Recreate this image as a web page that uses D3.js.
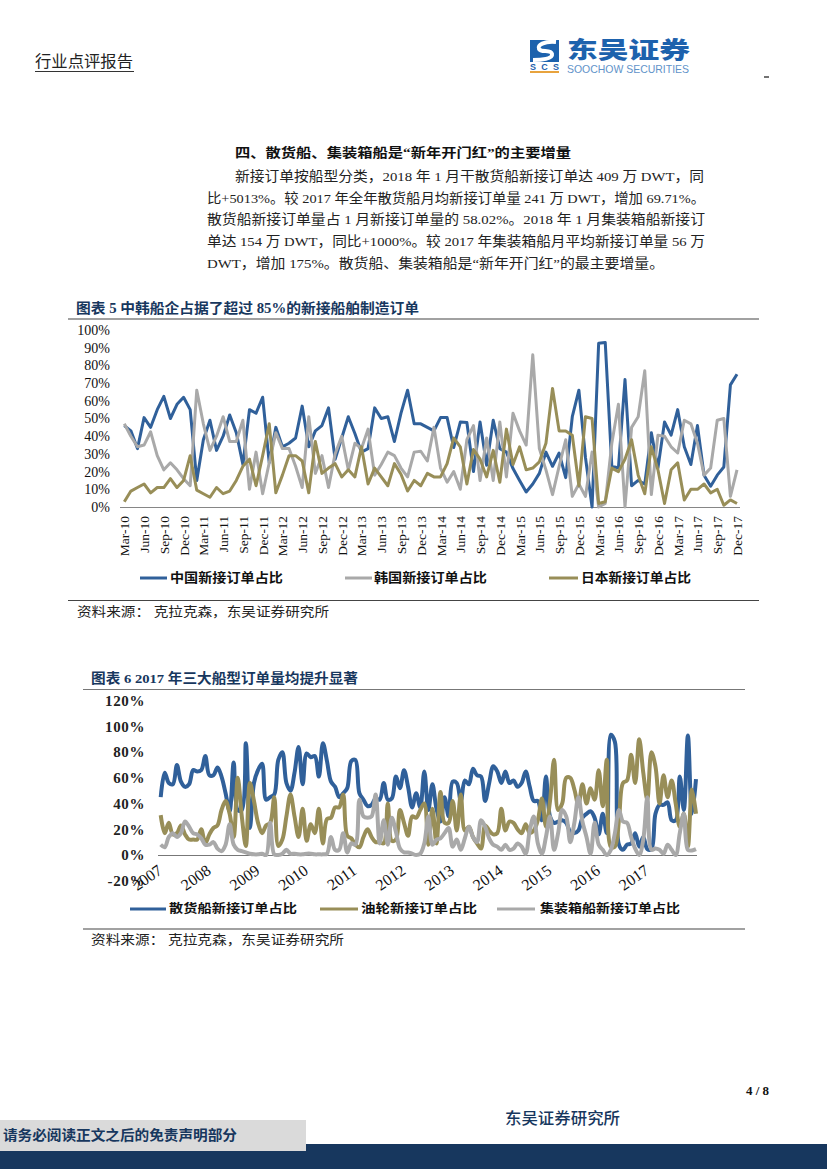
<!DOCTYPE html>
<html><head><meta charset="utf-8">
<script src="https://cdn.jsdelivr.net/npm/d3@7/dist/d3.min.js"></script>
<style>html,body{margin:0;padding:0;background:#fff}svg{display:block}</style>
</head><body><svg id="page" width="827" height="1169"></svg>
<script>
// ---------- chart 1 data (monthly, Mar-10 .. Dec-17, %)
const chinaShare = [46,43,33,50.5,45,55,62.5,50,58,62,
55,15,38,49,32,40,52,42,24,55,
53,62,25,45,34,36,39,57,34,43,
46,56,27,39,51,41.5,31,33,56,50,
51,37,53,66,47,47,45,43,50.5,50.5,
33.6,48,47.7,20,48,23.6,49,33,31,21.7,
15,8.5,13,19,31,23,30.5,16.6,51,66,
28,0,92.5,93,23,22,72,12,15,13,
42,22,48,40.6,55,34,24,46,18,11.7,
18,22.6,69,75];
const koreaShare = [47,40,34,35,42.5,29,21,25,21,16,
12,66,47,32,40,51,37,37,49,10,
31,7.5,25,42,33,33,23,11,51,19,
29,11,30,40,21,36,33,44,18,24,
31,29,22,17,31,31.5,26,45,22,14,
20,10,38,46,15,39,15,48,17,53,
43,35,86,33,21,7,23,38,6,13,
6,31,0,2,36,58,0,45,51,77,
7,40.6,40,34,30.5,49,47,36,18,22,
49,50,6,21];
const japanShare = [3,9,11,13,8,11,11,16,11,15,
29,9.5,7.5,5.5,11,7.5,9,15,23,27,
12,29,47,8,18,29,29,26,8,37,
19,22,24.5,17,21,17,34,13,22,17,
12,24.5,18.5,9,15,12,19,17,17,24.5,
39,34,13,32.5,27,17,32,14,44,24,
34,21,22,25.5,36,67,43,43,40.5,12,
51,50,2,3,22,20,27,38,18,7.5,
34,21,2,21,25,4,10,10,13,8,
10,1,4,2];
const chart1Ticks = ["Mar-10","Jun-10","Sep-10","Dec-10","Mar-11","Jun-11","Sep-11","Dec-11","Mar-12","Jun-12","Sep-12","Dec-12","Mar-13","Jun-13","Sep-13","Dec-13","Mar-14","Jun-14","Sep-14","Dec-14","Mar-15","Jun-15","Sep-15","Dec-15","Mar-16","Jun-16","Sep-16","Dec-16","Mar-17","Jun-17","Sep-17","Dec-17"];
const chart1Y = [0,10,20,30,40,50,60,70,80,90,100];
const chart1Names = ["中国新接订单占比","韩国新接订单占比","日本新接订单占比"];

// ---------- chart 2 data (monthly, Jan-07 .. Jan-18, %)
const bulkShare = [45,64,56,55,70,57,53,55,66,65,
66,77,62,62,68,61,48,34,72,35,
35,87,21,56,66,71,43,45,47,74,
80,56,50,64,84,55,79,76,77,61,
87,73,57,53,45,48,52,73,74,48,
43,38,39,44,43,56,43,44,61,52,
66,53,37,48,37,65,35,55,36,26,
45,30,57,56,42,58,55,67,62,61,
42,56,69,65,56,65,56,58,53,56,
65,53,42,42,27,61,30,25,26,27,
25,18,17,19,29,32,34,29,16,32,
17,93.5,88,8,4,8,9,17,6.5,14,
4.5,4.5,32,39,39,41,27,27,61,35,
93,32,59];
const tankerShare = [31,17,25,16,17,23,16,12,12,12,
20,9,16,21,23,35,42,32,14,60,
30,7,56,42,25,17,23,25,45,7,
12,30,47,30,14,36,11,24,17,36,
9,28,29,37,37,47,15,13,8,6,
14,20,14,10,10,9,40,11,12,35,
25,15,30,29,35,40,8,36,9,49,
25,25,42,19,47,19,22,14,9,5,
23,19,16,17,36,19,26,25,20,17,
24,17,19,27,44,22,42,74,35,40,
60,60,51,39,55,40,52,43,66,38,
74,6.5,6.5,27,56,58,78,56,90,64,
43,80,69,40,62,45,58,40,22,32,
6.5,51,32];
const containerShare = [8,6,14,17,14,17,26,22,17,16,
13,8,8,10,5,3,8,24,8,4,
3,2,1,0.5,0.5,1,0,25,0.5,0,
1,4,1,1,0.5,0.5,1,1,0.5,0.5,
0.5,1,14,4,4,17,2,9,8,43,
30,29,30,47,9,27,8,29,18,5,
2,2,1,0,1,9,30,8,12,13,
17,21,6.5,12,4,13,22,14,10,27,
22,13,8,6.5,4,8,4,5,9,6.5,
1,19,30,9,1,14,30,4,17,35,
30,10,25,45,26,14,1,25,8,4,
0,4,17,35,26,25,14,5,0,12,
45,4,5,4,1,8,4,0,17,32,
4,3.5,4.5];
const chart2Years = ["2007","2008","2009","2010","2011","2012","2013","2014","2015","2016","2017"];
const chart2Y = [-20,0,20,40,60,80,100,120];
const chart2Names = ["散货船新接订单占比","油轮新接订单占比","集装箱船新接订单占比"];

// ---------- page text
const bodyLines = [
 "新接订单按船型分类，2018 年 1 月干散货船新接订单达 409 万 DWT，同",
 "比+5013%。较 2017 年全年散货船月均新接订单量 241 万 DWT，增加 69.71%。",
 "散货船新接订单量占 1 月新接订单量的 58.02%。2018 年 1 月集装箱船新接订",
 "单达 154 万 DWT，同比+1000%。较 2017 年集装箱船月平均新接订单量 56 万",
 "DWT，增加 175%。散货船、集装箱船是“新年开门红”的最主要增量。"];

const BLUE="#30609a", GREY="#a9a9a9", OLIVE="#988e58", NAVY="#17375e";
const SERIF='"Liberation Serif","Noto Sans CJK SC",serif';
const svg=d3.select("#page").style("font-family",SERIF);

function label(x,y,str,len,o={}){
  const t=svg.append("text").attr("x",x).attr("y",y+1.5).attr("dominant-baseline","middle")
    .attr("font-size",o.size||13).attr("font-weight",o.weight||400).attr("fill",o.fill||"#222").text(str);
  if(len) t.attr("textLength",len).attr("lengthAdjust","spacingAndGlyphs");
  return t;
}
function rule(x1,x2,y,c,w){svg.append("line").attr("x1",x1).attr("x2",x2).attr("y1",y).attr("y2",y).attr("stroke",c).attr("stroke-width",w||1);}

// header
label(35,62,"行业点评报告",98,{size:16,fill:"#222"});
rule(35,134,71.5,"#333",1);
const logo=svg.append("g");
logo.append("rect").attr("x",530).attr("y",40).attr("width",29).attr("height",22).attr("fill","#1d62ad");
logo.append("path").attr("d","M556 42 C544 41 537 45 539 49 C541 53 551 49 552 54 C553 59 541 60 533 60").attr("fill","none").attr("stroke","#fff").attr("stroke-width",4);
logo.append("text").attr("x",530).attr("y",69.5).attr("font-size",9).attr("font-weight",700).attr("font-family","Liberation Sans").attr("fill","#1d62ad").attr("textLength",29).text("SCS");
logo.append("rect").attr("x",530).attr("y",71).attr("width",29).attr("height",2).attr("fill","#e8a33d");
label(567,50,"东吴证券",123,{size:23,weight:900,fill:"#1d62ad"}).style("font-family",'"Noto Sans CJK SC"');
label(567,68.5,"SOOCHOW SECURITIES",122,{size:11,fill:"#5f93c9"}).style("font-family","Liberation Sans");
rule(764,769,77,"#444",1.5);

// section + paragraph
label(235,153,"四、散货船、集装箱船是“新年开门红”的主要增量",336,{size:13,weight:700,fill:"#111"});
const lineX=[235,207,207,207,207], lineW=[469,498,498,498,457], lineY=[176,198,219,241,263];
bodyLines.forEach((s,i)=>label(lineX[i],lineY[i],s,lineW[i],{size:13.5,fill:"#222"}));

// ---------- chart 1
label(76,308,"图表 5 中韩船企占据了超过 85%的新接船舶制造订单",343,{size:14,weight:700,fill:NAVY});
rule(68,759,319,"#444",1.2);
const x1=d3.scaleLinear().domain([0,chinaShare.length-1]).range([124.3,737]);
const y1=d3.scaleLinear().domain([0,100]).range([507,330]);
const yA1=svg.append("g").attr("transform","translate(120,0)")
  .call(d3.axisLeft(y1).tickValues(chart1Y).tickFormat(d=>d+"%").tickSize(0).tickPadding(10));
yA1.select(".domain").remove();
yA1.selectAll("text").attr("font-family",SERIF).attr("font-size",14).attr("fill","#111");
const xA1=svg.append("g").attr("transform","translate(0,507)")
  .call(d3.axisBottom(x1).tickValues(chart1Ticks.map((_,i)=>i*3)).tickFormat(i=>chart1Ticks[i/3]).tickSize(0));
xA1.select(".domain").remove();
xA1.selectAll("text").attr("font-family",SERIF).attr("font-size",13.5).attr("fill","#111")
  .attr("text-anchor","end").attr("transform","rotate(-90)").attr("x",-9).attr("y",0).attr("dy","0.33em");
rule(120,740,507.5,"#868686",1);
const line1=d3.line().x((d,i)=>x1(i)).y(d=>y1(d)).curve(d3.curveLinear);
[[chinaShare,BLUE],[koreaShare,GREY],[japanShare,OLIVE]].forEach(([d,c])=>
  svg.append("path").datum(d).attr("d",line1).attr("fill","none").attr("stroke",c).attr("stroke-width",3).attr("stroke-linejoin","round"));
// legend 1
[[140,167,170,113,BLUE],[345,372,374,113,GREY],[549,578,581,110,OLIVE]].forEach((p,i)=>{
  rule(p[0],p[1],578,p[4],3);
  label(p[2],578,chart1Names[i],p[3],{size:13,weight:700,fill:"#111"});
});
rule(68,759,600.5,"#444",1.2);
label(77,612,"资料来源：   克拉克森，东吴证券研究所",252,{size:13,fill:"#222"});

// ---------- chart 2
label(91,678,"图表 6 2017 年三大船型订单量均提升显著",267,{size:13.5,weight:700,fill:NAVY});
rule(83,745,689.5,"#777",1.2);
const x2=d3.scaleLinear().domain([0,bulkShare.length-1]).range([160.7,696]);
const y2=d3.scaleLinear().domain([-20,120]).range([880.7,700.7]);
const yA2=svg.append("g").attr("transform","translate(158,0)")
  .call(d3.axisLeft(y2).tickValues(chart2Y).tickFormat(d=>d+"%").tickSize(0).tickPadding(13));
yA2.select(".domain").remove();
yA2.selectAll("text").attr("font-family",SERIF).attr("font-size",15).attr("font-weight",700).attr("fill","#222").attr("letter-spacing",0.6);
const xA2=svg.append("g").attr("transform","translate(0,855)")
  .call(d3.axisBottom(x2).tickValues(chart2Years.map((_,i)=>i*12)).tickFormat(i=>chart2Years[i/12]).tickSize(0));
xA2.select(".domain").remove();
xA2.selectAll("text").attr("font-family",SERIF).attr("font-size",16).attr("fill","#111")
  .attr("text-anchor","middle").attr("y",0).attr("dy",0)
  .attr("transform","translate(-13,24) rotate(-35)").attr("dominant-baseline","middle");
rule(158,697,855.5,"#777",1);
const line2=d3.line().x((d,i)=>x2(i)).y(d=>y2(d)).curve(d3.curveCatmullRom.alpha(0.5));
[[bulkShare,BLUE],[tankerShare,OLIVE],[containerShare,GREY]].forEach(([d,c])=>
  svg.append("path").datum(d).attr("d",line2).attr("fill","none").attr("stroke",c).attr("stroke-width",4).attr("stroke-linejoin","round"));
// legend 2
[[130,166,169,128,BLUE],[320,358,361,116,OLIVE],[497,535,540,140,GREY]].forEach((p,i)=>{
  rule(p[0],p[1],909,p[4],3);
  label(p[2],909,chart2Names[i],p[3],{size:12,weight:700,fill:"#111"});
});
rule(83,745,929,"#444",1.2);
label(91,940,"资料来源：   克拉克森，东吴证券研究所",253,{size:13,fill:"#222"});

// footer
label(746,1091,"4 / 8",23,{size:12,weight:700,fill:"#111"});
label(505,1119,"东吴证券研究所",115,{size:16,weight:500,fill:NAVY});
svg.append("rect").attr("x",0).attr("y",1144).attr("width",827).attr("height",25).attr("fill",NAVY);
svg.append("rect").attr("x",0).attr("y",1120).attr("width",306).attr("height",31).attr("fill","#dadada");
label(3,1135,"请务必阅读正文之后的免责声明部分",234,{size:14,weight:700,fill:NAVY});
</script></body></html>
